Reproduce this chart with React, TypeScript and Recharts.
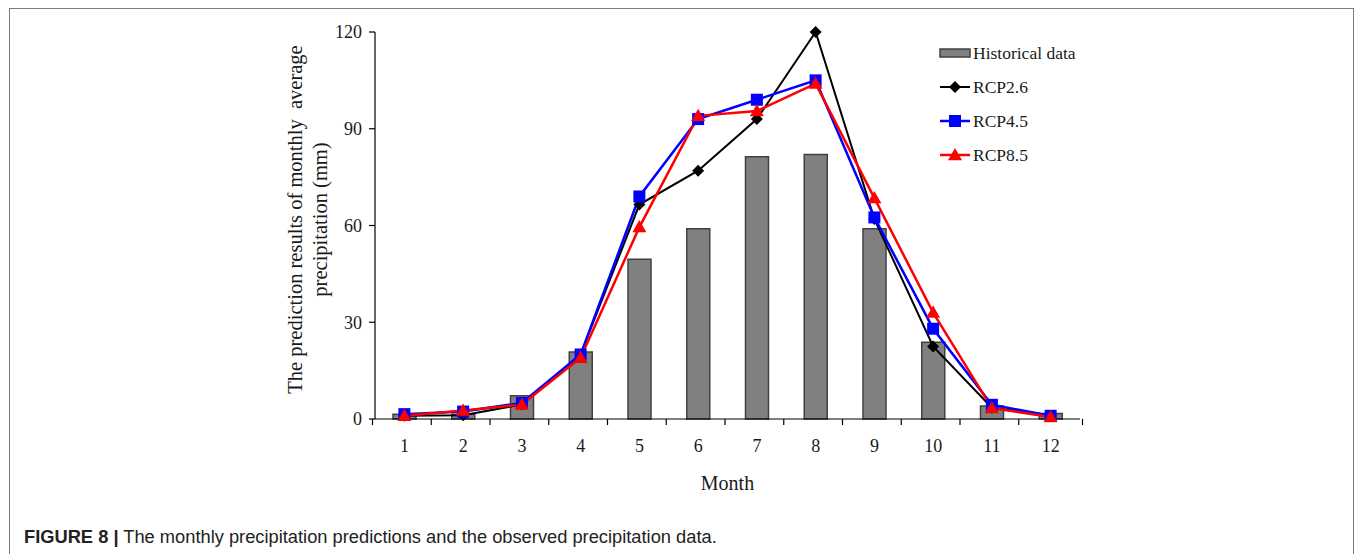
import React from 'react'
import {
  ComposedChart,
  Bar,
  Line,
  XAxis,
  YAxis
} from 'recharts'

const months = ['1', '2', '3', '4', '5', '6', '7', '8', '9', '10', '11', '12']
const historical = [1.5, 1.5, 7.2, 20.8, 49.5, 59, 81.3, 82, 59, 23.8, 4, 1.7]
const rcp26 = [1, 1.2, 4.5, 20, 66.5, 77, 93, 120, 62, 22.5, 3.5, 1]
const rcp45 = [1.5, 2.3, 5, 20, 69, 93, 99, 105, 62.5, 28, 4.4, 1]
const rcp85 = [1, 2.6, 4.5, 19, 59.5, 94, 95.5, 104, 68.5, 33, 3.4, 0.6]
const yTicks = [0, 30, 60, 90, 120]

const data = months.map((m, i) => ({
  month: m,
  historical: historical[i],
  rcp26: rcp26[i],
  rcp45: rcp45[i],
  rcp85: rcp85[i]
}))

const W = 1355
const H = 554
const margin = { top: 32, right: 275, bottom: 55, left: 315 }
const plotWidth = W - margin.left - margin.right
const half = plotWidth / months.length / 2
const serif = '"Liberation Serif", "Times New Roman", serif'

const Diamond = ({ cx, cy, s = 6 }: any) => (
  <path d={`M${cx},${cy - s}L${cx + s},${cy}L${cx},${cy + s}L${cx - s},${cy}Z`} fill="#000" />
)
const Square = ({ cx, cy, s = 6 }: any) => (
  <rect x={cx - s} y={cy - s} width={s * 2} height={s * 2} fill="#0000ff" />
)
const Triangle = ({ cx, cy, s = 7 }: any) => (
  <path d={`M${cx},${cy - s}L${cx + s},${cy + s * 0.75}L${cx - s},${cy + s * 0.75}Z`} fill="#ff0000" />
)

const series = [
  { key: 'rcp26', name: 'RCP2.6', color: '#000000', width: 2, Mark: Diamond },
  { key: 'rcp45', name: 'RCP4.5', color: '#0000ff', width: 2.5, Mark: Square },
  { key: 'rcp85', name: 'RCP8.5', color: '#ff0000', width: 2.5, Mark: Triangle }
]

const MonthTick = ({ x, y, payload, index }: any) => (
  <g>
    <line x1={x - half} y1={y} x2={x - half} y2={y + 6} stroke="#000" strokeWidth={1.2} />
    {index === months.length - 1 && (
      <line x1={x + half} y1={y} x2={x + half} y2={y + 6} stroke="#000" strokeWidth={1.2} />
    )}
    <text x={x} y={y + 33} textAnchor="middle" fontFamily={serif} fontSize={18} fill="#1a1a1a">
      {payload.value}
    </text>
  </g>
)

const LegendBox = () => (
  <div
    style={{
      position: 'absolute',
      left: 939,
      top: 36,
      fontFamily: serif,
      fontSize: 17.5,
      color: '#1a1a1a'
    }}
  >
    <div style={{ display: 'flex', alignItems: 'center', height: 34 }}>
      <svg width={34} height={34}>
        <rect x={1} y={13} width={30} height={8} fill="#808080" stroke="#404040" strokeWidth={1.5} />
      </svg>
      <span>Historical data</span>
    </div>
    {series.map(({ key, name, color, width, Mark }) => (
      <div key={key} style={{ display: 'flex', alignItems: 'center', height: 34 }}>
        <svg width={34} height={34}>
          <line x1={1} y1={17} x2={31} y2={17} stroke={color} strokeWidth={width} />
          <Mark cx={16} cy={17} />
        </svg>
        <span>{name}</span>
      </div>
    ))}
  </div>
)

export default function App() {
  return (
    <div style={{ position: 'absolute', left: 0, top: 0, width: W, height: H, overflow: 'hidden', background: '#fff' }}>
      <div
        style={{
          position: 'absolute',
          left: 9,
          top: 8,
          width: 1343,
          height: 600,
          border: '1px solid #7a7a7a'
        }}
      />
      <div style={{ position: 'absolute', left: 0, top: 0 }}>
        <ComposedChart width={W} height={H} data={data} margin={margin}>
          <XAxis
            dataKey="month"
            height={80}
            axisLine={{ stroke: '#000', strokeWidth: 1.2 }}
            tickLine={false}
            tickSize={0}
            tickMargin={0}
            tick={<MonthTick />}
            interval={0}
            label={({ viewBox }: any) => (
              <text
                x={viewBox.x + viewBox.width / 2}
                y={viewBox.y + 71}
                textAnchor="middle"
                fontFamily={serif}
                fontSize={20}
                fill="#1a1a1a"
              >
                Month
              </text>
            )}
          />
          <YAxis
            domain={[0, 120]}
            ticks={yTicks}
            width={60}
            axisLine={{ stroke: '#000', strokeWidth: 1.2 }}
            tickLine={{ stroke: '#000', strokeWidth: 1.2 }}
            tickSize={6}
            tickMargin={7}
            tick={{ fontFamily: serif, fontSize: 18, fill: '#1a1a1a' }}
            label={({ viewBox }: any) => {
              const cy = viewBox.y + viewBox.height / 2 - 6
              return (
                <g>
                  <text
                    x={295}
                    y={cy}
                    transform={`rotate(-90 295 ${cy})`}
                    textAnchor="middle"
                    dominantBaseline="central"
                    fontFamily={serif}
                    fontSize={20.5}
                    fill="#1a1a1a"
                    style={{ whiteSpace: 'pre' }}
                  >
                    {'The prediction results of monthly  average'}
                  </text>
                  <text
                    x={320}
                    y={cy}
                    transform={`rotate(-90 320 ${cy})`}
                    textAnchor="middle"
                    dominantBaseline="central"
                    fontFamily={serif}
                    fontSize={20.5}
                    fill="#1a1a1a"
                  >
                    precipitation (mm)
                  </text>
                </g>
              )
            }}
          />
          <Bar
            dataKey="historical"
            name="Historical data"
            barSize={23}
            fill="#808080"
            stroke="#404040"
            strokeWidth={1.5}
            isAnimationActive={false}
          />
          {series.map(({ key, name, color, width, Mark }) => (
            <Line
              key={key}
              dataKey={key}
              name={name}
              type="linear"
              stroke={color}
              strokeWidth={width}
              dot={(p: any) => <Mark key={`${key}-${p.index}`} cx={p.cx} cy={p.cy} />}
              activeDot={false}
              isAnimationActive={false}
            />
          ))}
        </ComposedChart>
      </div>
      <LegendBox />
      <div
        style={{
          position: 'absolute',
          left: 24,
          top: 526,
          fontFamily: '"Liberation Sans", Arial, sans-serif',
          fontSize: 18.3,
          color: '#222',
          whiteSpace: 'nowrap'
        }}
      >
        <b>FIGURE 8 |</b> The monthly precipitation predictions and the observed precipitation data.
      </div>
    </div>
  )
}
